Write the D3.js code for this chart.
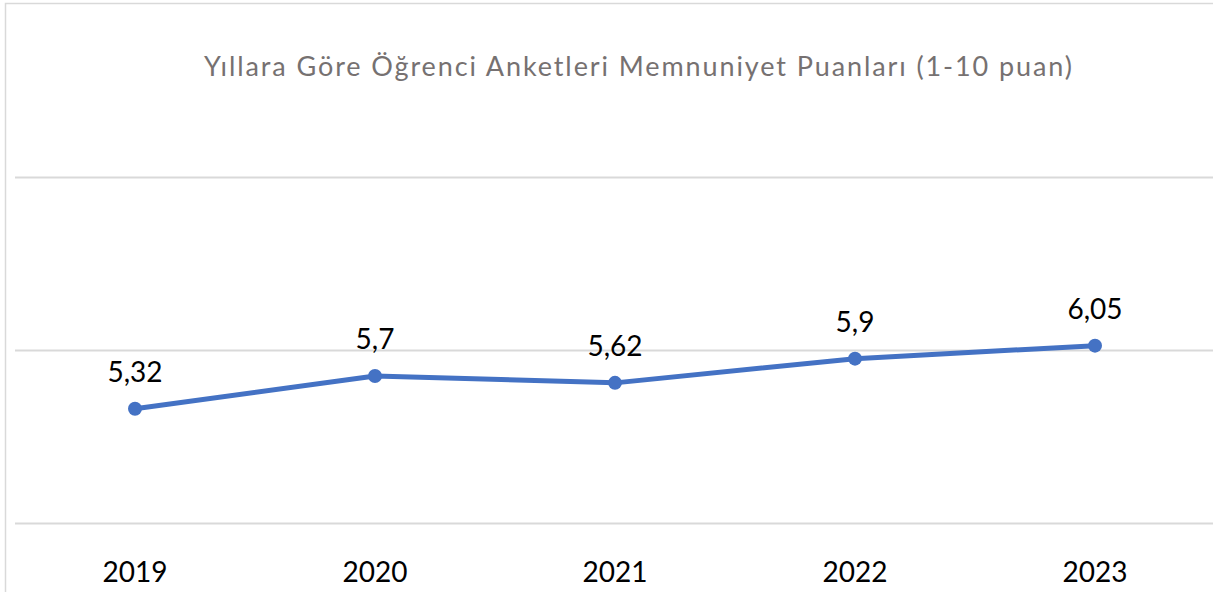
<!DOCTYPE html>
<html>
<head>
<meta charset="utf-8">
<script src="https://cdn.jsdelivr.net/npm/d3@7"></script>
<style>
    body { margin: 0; background: #fff; }
    svg { display: block; }
</style>
</head>
<body>
<svg id="chart" width="1213" height="592"></svg>
<script>
const years = ['2019', '2020', '2021', '2022', '2023'];
const scores = [5.32, 5.7, 5.62, 5.9, 6.05];
const yTicks = [4, 6, 8];
const title = 'Yıllara Göre Öğrenci Anketleri Memnuniyet Puanları (1-10 puan)';

const svg = d3.select('#chart');

// chart frame (right and bottom edges fall outside the picture)
svg.append('rect')
    .attr('x', 5.5).attr('y', 3.5)
    .attr('width', 1230).attr('height', 620)
    .attr('fill', '#fff')
    .attr('stroke', '#d9d9d9')
    .attr('stroke-width', 1.5);

const x = d3.scalePoint().domain(years).range([15, 1215]).padding(0.5);
const y = d3.scaleLinear().domain([4, 10]).range([523, 4]);

// gridlines
svg.append('g')
    .selectAll('line')
    .data(yTicks)
    .join('line')
    .attr('x1', 15).attr('x2', 1215)
    .attr('y1', d => Math.round(y(d)) + 0.5)
    .attr('y2', d => Math.round(y(d)) + 0.5)
    .attr('stroke', '#d9d9d9')
    .attr('stroke-width', 2);

svg.append('text')
    .attr('x', 639).attr('y', 76)
    .attr('text-anchor', 'middle')
    .attr('font-family', 'Lato, sans-serif')
    .attr('font-size', 27)
    .attr('letter-spacing', 1.9)
    .attr('fill', '#767171')
    .text(title);

// x labels
svg.append('g')
    .selectAll('text')
    .data(years)
    .join('text')
    .attr('x', d => x(d))
    .attr('y', 582)
    .attr('text-anchor', 'middle')
    .attr('font-family', 'Lato, sans-serif')
    .attr('font-size', 28)
    .attr('fill', '#000')
    .text(d => d);

const points = years.map((yr, i) => ({ yr, v: scores[i] }));

const line = d3.line().x(d => x(d.yr)).y(d => y(d.v));

svg.append('path')
    .datum(points)
    .attr('d', line)
    .attr('fill', 'none')
    .attr('stroke', '#4472c4')
    .attr('stroke-width', 5)
    .attr('stroke-linejoin', 'round')
    .attr('stroke-linecap', 'round');

svg.append('g')
    .selectAll('circle')
    .data(points)
    .join('circle')
    .attr('cx', d => x(d.yr))
    .attr('cy', d => y(d.v))
    .attr('r', 7)
    .attr('fill', '#4472c4');

// data labels
svg.append('g')
    .selectAll('text')
    .data(points)
    .join('text')
    .attr('x', d => x(d.yr))
    .attr('y', d => y(d.v) - 27)
    .attr('text-anchor', 'middle')
    .attr('font-family', 'Lato, sans-serif')
    .attr('font-size', 28)
    .attr('fill', '#000')
    .text(d => String(d.v).replace('.', ','));
</script>
</body>
</html>
